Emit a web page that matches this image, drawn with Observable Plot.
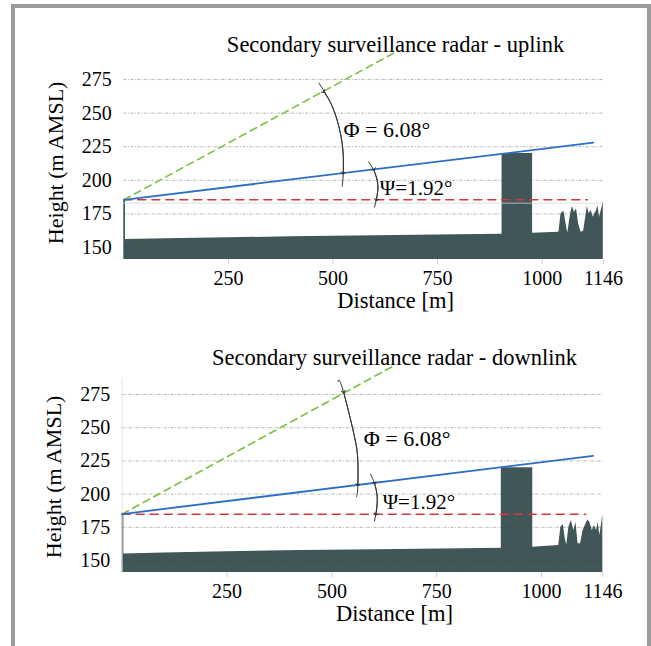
<!DOCTYPE html>
<html><head><meta charset="utf-8">
<script src="https://cdn.jsdelivr.net/npm/d3@7"></script>
<script src="https://cdn.jsdelivr.net/npm/@observablehq/plot@0.6"></script>
<style>
html,body{margin:0;padding:0;background:#fff;}
#page{position:relative;width:651px;height:646px;overflow:hidden;font-family:"Liberation Serif",serif;}
#frame{position:absolute;left:11px;top:4px;width:640px;height:700px;border:4px solid #9b9b9b;border-bottom:none;box-sizing:border-box;}
.panel{position:absolute;left:0;}
.panel svg text{font-family:"Liberation Serif","Times New Roman",serif;}
</style></head><body>
<div id="page"><div id="frame"></div><div id="p1" class="panel" style="top:0px"></div><div id="p2" class="panel" style="top:314px"></div></div>
<script>
// ---------- data ----------
const titles = ["Secondary surveillance radar - uplink", "Secondary surveillance radar - downlink"];
const xLabel = "Distance [m]";
const yLabel = "Height (m AMSL)";
const xTicks = [250, 500, 750, 1000, 1146];
const yTicks = [150, 175, 200, 225, 250, 275];
const phiText = "\u03A6 = 6.08\u00B0";
const psiText = "\u03A8=1.92\u00B0";

// terrain profile (distance m, height m AMSL)
const upTerrainD = [0, 4, 4, 100, 250, 400, 550, 700, 904, 904, 977, 977, 1040, 1045, 1052, 1057, 1061, 1068, 1072, 1077, 1082, 1087, 1093, 1099, 1104, 1108, 1112, 1117, 1122, 1125, 1130, 1133, 1137, 1144, 1146];
const upTerrainH = [185.5, 185.5, 156, 156.5, 157.2, 158, 158.6, 159.2, 159.8, 220, 220, 160.6, 161.4, 175.1, 177, 167.6, 160.6, 175.1, 180.5, 176.3, 178.8, 167.6, 161.4, 162.1, 172.6, 180.5, 175.1, 177.5, 172.6, 174.6, 177.5, 181.3, 172.6, 181, 185];
const downTerrainD = [0, 4, 4, 100, 250, 425, 550, 663, 904, 904, 979, 979, 1041, 1046, 1052, 1056, 1060, 1065, 1071, 1077, 1082, 1087, 1093, 1099, 1110, 1115, 1121, 1126, 1131, 1135, 1139, 1143, 1146];
const downTerrainH = [185, 185, 155, 155.6, 156.6, 157.5, 158, 158.3, 159.3, 219.8, 219.8, 160, 161.3, 175.1, 177.1, 167.5, 161.3, 175.1, 180.1, 172.6, 178.8, 162.6, 162.6, 172.6, 180.6, 178.8, 172.6, 176.4, 172.6, 178.8, 168.8, 177.6, 184.4];

// line of sight (blue), horizon (red dashed), beam edge (green dashed)
const upLosD = [0, 1122], upLosH = [185.5, 228];
const upHorD = [0, 1108], upHorH = [185.5, 185.5];
const upBeamD = [0, 647], upBeamH = [185.5, 295];
const downLosD = [0, 1123], downLosH = [185, 228.8];
const downHorD = [0, 1105], downHorH = [184.8, 184.8];
const downBeamD = [0, 644], downBeamH = [185, 296];

// angle arcs
const upPhiArcD = [466, 476.5, 502, 522, 524.4, 522];
const upPhiArcH = [272.4, 267.5, 252.1, 227.3, 205, 195.5];
const upPhiTipD = [477.5, 502, 522, 524.4];
const upPhiTipH = [266, 252.1, 227.3, 205.3];
const upPsiArcD = [585.6, 597.5, 605.6, 607.1, 604, 599.2];
const upPsiArcH = [213.6, 207.4, 200, 192.6, 186.4, 180.1];
const upPsiTipD = [597.5, 605.6, 607.1, 603.5];
const upPsiTipH = [208.1, 200, 192.6, 185.5];
const downPhiArcD = [514, 524.5, 552.2, 561.8, 561.8, 558.7];
const downPhiArcH = [284.6, 280.3, 245.7, 225.6, 205.5, 198];
const downPhiTipD = [528, 552.2, 561.8, 561.8];
const downPhiTipH = [277, 245.7, 225.6, 206.9];
const downPsiArcD = [592, 601.6, 608, 606.4, 601.6];
const downPsiArcH = [215.1, 208.1, 198, 188, 179.9];
const downPsiTipD = [601.6, 608, 606.4, 604.5];
const downPsiTipH = [208.3, 198, 188, 184.8];

// label anchors (data coords)
const upPhiLabel = [525, 237.2], upPsiLabel = [612, 193.8];
const downPhiLabel = [576, 241.9], downPsiLabel = [621, 194.2];

// ---------- drawing ----------
const zip = (D, H) => D.map((d, i) => ({d, h: H[i]}));
const Y0 = 141, Y1 = 285;
const FONT = "Liberation Serif";

function panel(cfg) {
  const marks = [
    Plot.areaY(zip(cfg.terrainD, cfg.terrainH), {x: "d", y1: Y0, y2: "h", fill: "#405659"}),
    Plot.ruleY(yTicks, {stroke: "#444", strokeOpacity: 0.5, strokeWidth: 0.8, strokeDasharray: "3,1.5,1,1.5"}),
  ];
  if (cfg.faint) marks.push(Plot.ruleY([183], {stroke: "#d6d6d6", strokeWidth: 0.8}));
  if (cfg.leftLine) marks.push(Plot.ruleX([0], {y1: Y0, y2: Y1 + 2, stroke: "#e2e2e2", strokeWidth: 0.8}));
  marks.push(
    Plot.line(zip(cfg.beamD, cfg.beamH), {x: "d", y: "h", stroke: "#7dc143", strokeWidth: 1.6, strokeDasharray: "7,5"}),
    Plot.line(zip(cfg.horD, cfg.horH), {x: "d", y: "h", stroke: "#d33a3a", strokeWidth: 1.6, strokeDasharray: "8,6"}),
    Plot.line(zip(cfg.losD, cfg.losH), {x: "d", y: "h", stroke: "#2a6fc4", strokeWidth: 1.8}),
    Plot.line(zip(cfg.phiArcD, cfg.phiArcH), {x: "d", y: "h", curve: "natural", stroke: "#333", strokeWidth: 1}),
    Plot.line(zip(cfg.phiTipD, cfg.phiTipH), {x: "d", y: "h", curve: "natural", stroke: "#333", strokeWidth: 1, markerStart: "arrow", markerEnd: "arrow"}),
    Plot.line(zip(cfg.psiArcD, cfg.psiArcH), {x: "d", y: "h", curve: "natural", stroke: "#333", strokeWidth: 1}),
    Plot.line(zip(cfg.psiTipD, cfg.psiTipH), {x: "d", y: "h", curve: "natural", stroke: "#333", strokeWidth: 1, markerStart: "arrow", markerEnd: "arrow"}),
    Plot.text([cfg.phiLabel], {x: d => d[0], y: d => d[1], text: () => phiText, textAnchor: "start", fontSize: 22, fontFamily: FONT, fill: "#000"}),
    Plot.text([cfg.psiLabel], {x: d => d[0], y: d => d[1], text: () => psiText, textAnchor: "start", fontSize: 21, fontFamily: FONT, fill: "#000"}),
    Plot.axisY({ticks: yTicks, tickSize: 0, tickPadding: 12, fontSize: 20, fontFamily: FONT, label: null, fill: "#000", tickFormat: d => String(d)}),
    Plot.axisX({ticks: xTicks, tickSize: 5, tickPadding: 6, fontSize: 20, fontFamily: FONT, label: null, stroke: "#cccccc", fill: "#000", tickFormat: d => String(d)}),
    Plot.text([cfg.title], {frameAnchor: "top", dy: cfg.titleDy, dx: 32, text: d => d, textAnchor: "middle", lineAnchor: "middle", fontSize: 22.5, fontFamily: FONT, fill: "#000"}),
    Plot.text([xLabel], {frameAnchor: "bottom", dy: 41, dx: 32, text: d => d, textAnchor: "middle", lineAnchor: "middle", fontSize: 22.5, fontFamily: FONT, fill: "#000"}),
    Plot.text([yLabel], {frameAnchor: "left", dx: -68, rotate: -90, text: d => d, textAnchor: "middle", lineAnchor: "middle", fontSize: 22, fontFamily: FONT, fill: "#000"})
  );
  return Plot.plot({
    width: 651,
    height: cfg.height,
    marginLeft: cfg.ml, marginRight: cfg.mr, marginTop: cfg.mt, marginBottom: cfg.mb,
    x: {domain: [0, 1146]},
    y: {domain: [Y0, Y1]},
    style: {fontFamily: FONT, fontSize: "20px", background: "transparent", overflow: "visible", color: "#000"},
    marks
  });
}

document.getElementById("p1").append(panel({
  height: 314, ml: 123.3, mr: 48.2, mt: 65.6, mb: 54.9, titleDy: -21.6, faint: true, leftLine: false,
  title: titles[0],
  terrainD: upTerrainD, terrainH: upTerrainH,
  losD: upLosD, losH: upLosH, horD: upHorD, horH: upHorH, beamD: upBeamD, beamH: upBeamH,
  phiArcD: upPhiArcD, phiArcH: upPhiArcH, phiTipD: upPhiTipD, phiTipH: upPhiTipH,
  psiArcD: upPsiArcD, psiArcH: upPsiArcH, psiTipD: upPsiTipD, psiTipH: upPsiTipH,
  phiLabel: upPhiLabel, psiLabel: upPsiLabel
}));
document.getElementById("p2").append(panel({
  height: 332, ml: 121.7, mr: 48.7, mt: 66.7, mb: 74, titleDy: -23.7, faint: false, leftLine: true,
  title: titles[1],
  terrainD: downTerrainD, terrainH: downTerrainH,
  losD: downLosD, losH: downLosH, horD: downHorD, horH: downHorH, beamD: downBeamD, beamH: downBeamH,
  phiArcD: downPhiArcD, phiArcH: downPhiArcH, phiTipD: downPhiTipD, phiTipH: downPhiTipH,
  psiArcD: downPsiArcD, psiArcH: downPsiArcH, psiTipD: downPsiTipD, psiTipH: downPsiTipH,
  phiLabel: downPhiLabel, psiLabel: downPsiLabel
}));
</script>
</body></html>
